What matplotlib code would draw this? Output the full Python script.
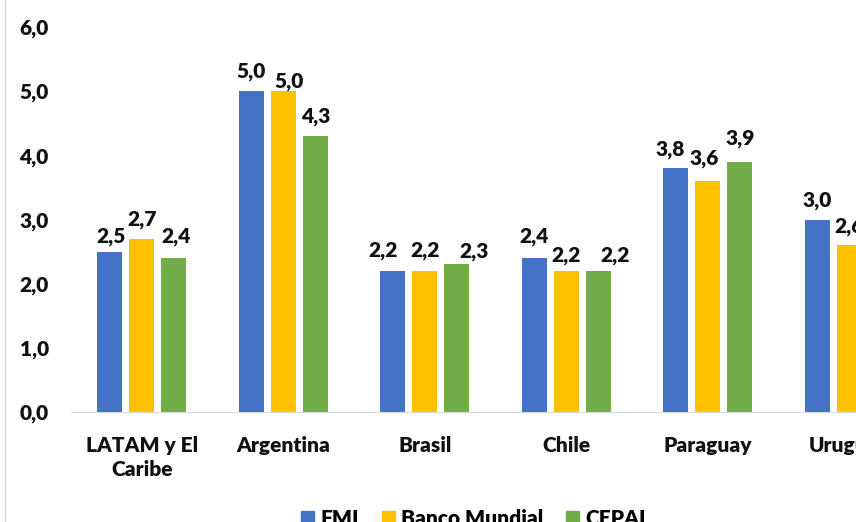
import numpy as np
import matplotlib.pyplot as plt
from matplotlib.lines import Line2D
from matplotlib.patches import Patch

plt.rcParams['font.family'] = ['Lato', 'DejaVu Sans']
plt.rcParams['font.weight'] = 'bold'

categories = ['LATAM y El\nCaribe', 'Argentina', 'Brasil', 'Chile', 'Paraguay', 'Uruguay']
fmi = [2.5, 5.0, 2.2, 2.4, 3.8, 3.0]
banco_mundial = [2.7, 5.0, 2.2, 2.2, 3.6, 2.6]
cepal = [2.4, 4.3, 2.3, 2.2, 3.9, 3.2]
series_names = ['FMI', 'Banco Mundial', 'CEPAL']
colors = ['#4472C4', '#FFC000', '#70AD47']

# label nudges in pixels (dx, gap above bar), as hand-placed in the original
label_dx = [[1, 0, 2], [0, 6, 0], [-10, 0, 17], [0, 0, 17], [-5, -4, 0], [0, 0, 0]]
label_gap = [[9, 13, 15], [14, 4, 14], [14, 14, 7], [15, 9, 9], [13, 16, 17], [13, 13, 13]]

fig = plt.figure(figsize=(8.56, 5.22), dpi=100)
# axes runs past the right edge, the reference is cropped there
ax = fig.add_axes([71 / 856, 1 - 412 / 522, 849 / 856, 385 / 522])

x = np.arange(len(categories))
w = 0.177
step = 0.227
for i, (vals, c) in enumerate(zip([fmi, banco_mundial, cepal], colors)):
    bars = ax.bar(x + (i - 1) * step, vals, width=w, color=c)
    for j, (b, v) in enumerate(zip(bars, vals)):
        ax.annotate(f'{v:.1f}'.replace('.', ','), (b.get_x() + b.get_width() / 2, v),
                    xytext=(label_dx[j][i] * 0.72, label_gap[j][i] * 0.72),
                    textcoords='offset points', ha='center', va='baseline',
                    fontsize=15, fontweight='heavy', color='#111111', clip_on=False)

ax.set_xlim(-0.5, 5.5)
ax.set_ylim(0, 6)
ax.set_yticks(np.arange(0, 6.1, 1))
ax.set_yticklabels([f'{t:.1f}'.replace('.', ',') for t in np.arange(0, 6.1, 1)], fontsize=15)
ax.set_xticks(x)
ax.set_xticklabels(categories, linespacing=1.35, fontsize=15)
ax.tick_params(axis='both', length=0, colors='#111111')
ax.tick_params(axis='y', pad=16)
ax.tick_params(axis='x', pad=17)
for lbl in ax.get_xticklabels() + ax.get_yticklabels():
    lbl.set_fontweight('heavy')
for s in ['top', 'right', 'left']:
    ax.spines[s].set_visible(False)
ax.spines['bottom'].set_color('#d9d9d9')

handles = [Patch(color=c) for c in colors]
fig.legend(handles, series_names, loc='center', bbox_to_anchor=(0.556, 0.006),
           ncol=3, frameon=False, handlelength=0.62, handleheight=0.62,
           columnspacing=1.1, handletextpad=0.3, prop={'weight': 'heavy', 'size': 15})

fig.add_artist(Line2D([4.5 / 856, 4.5 / 856], [0, 1], color='#d9d9d9', lw=1))

fig.savefig('out.png', dpi=100)
